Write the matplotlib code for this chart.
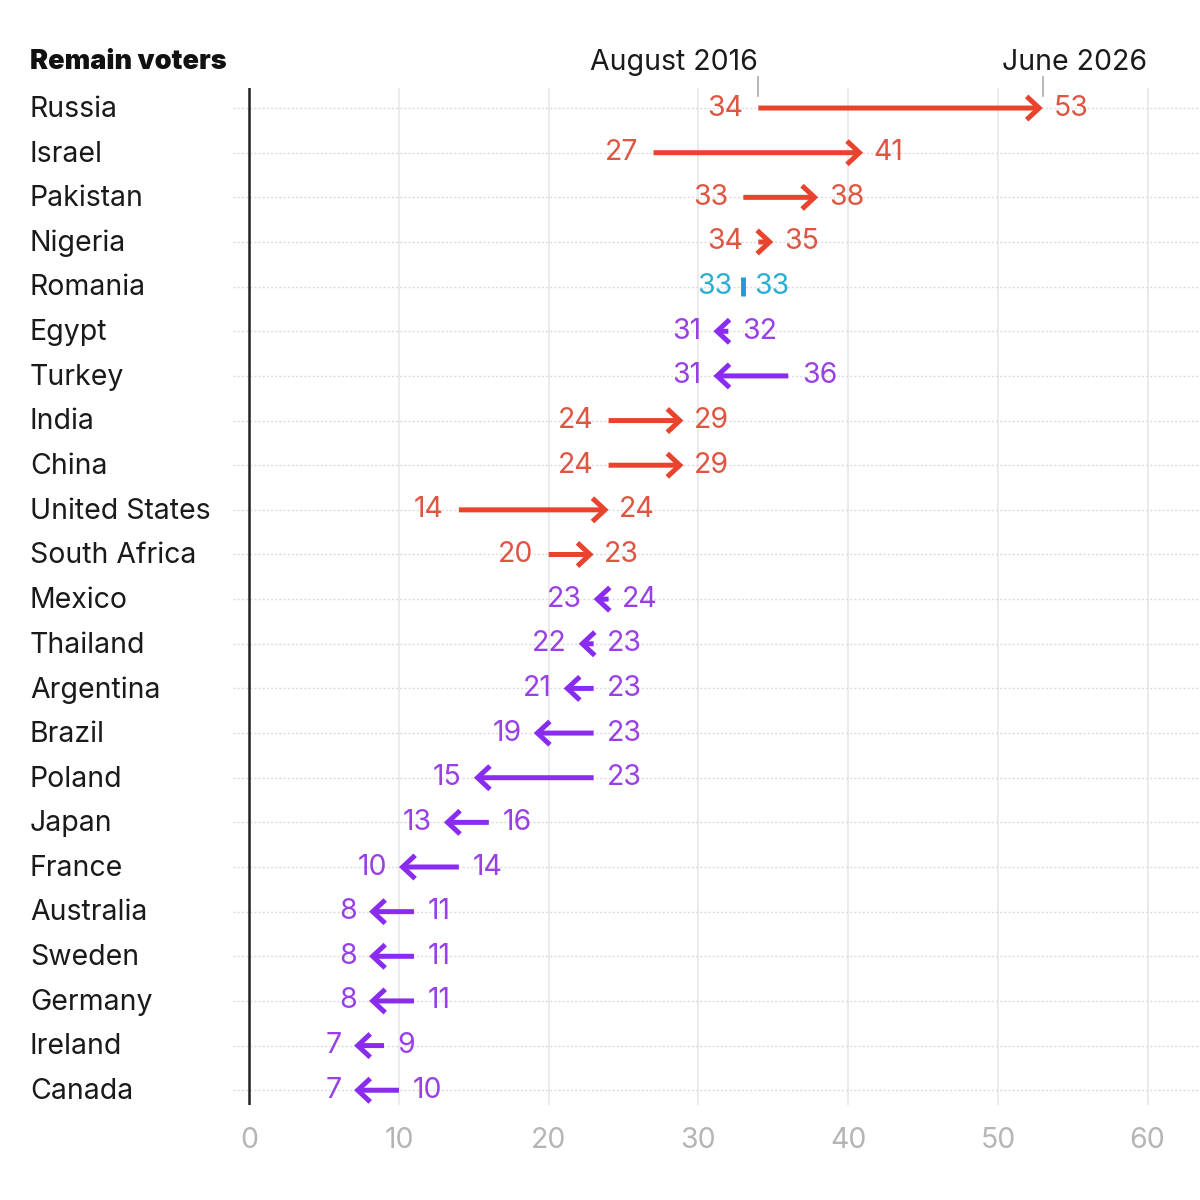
import matplotlib.pyplot as plt
from matplotlib.transforms import blended_transform_factory

# data
countries = ['Russia', 'Israel', 'Pakistan', 'Nigeria', 'Romania', 'Egypt', 'Turkey',
             'India', 'China', 'United States', 'South Africa', 'Mexico', 'Thailand',
             'Argentina', 'Brazil', 'Poland', 'Japan', 'France', 'Australia', 'Sweden',
             'Germany', 'Ireland', 'Canada']
aug2016 = [34, 27, 33, 34, 33, 32, 36, 24, 24, 14, 20, 24, 23, 23, 23, 23, 16, 14, 11, 11, 11, 9, 10]
jun2026 = [53, 41, 38, 35, 33, 31, 31, 29, 29, 24, 23, 23, 22, 21, 19, 15, 13, 10, 8, 8, 8, 7, 7]
xticks = [0, 10, 20, 30, 40, 50, 60]

RED = '#e8432d'
RED_TXT = '#de5642'
PURPLE = '#8a2cf0'
PURPLE_TXT = '#9840e6'
TEAL = '#1b9ed8'
TEAL_TXT = '#2aaed2'
FONT = 'Inter'
FS = 20.5

fig = plt.figure(figsize=(12, 12), dpi=100)
ax = fig.add_axes([0.194, 0.0792, 0.806, 0.8475])
n = len(countries)
ax.set_xlim(-1.1, 63.5)
ax.set_ylim(n - 1 + 0.33, -0.45)

for s in ax.spines.values():
    s.set_visible(False)
ax.set_yticks([])
ax.set_xticks(xticks)
ax.set_xticklabels([str(t) for t in xticks], fontsize=FS, color='#b5b5b5', family=FONT)
ax.tick_params(axis='x', length=0, pad=16)

# gridlines
for t in xticks[1:]:
    ax.axvline(t, color='#e8e8e8', lw=1.2, zorder=0)
for i in range(n):
    ax.axhline(i, color='#dcdcdc', lw=1, ls=(0, (1.5, 1.5)), zorder=0)
ax.axvline(0, color='#222222', lw=1.8, zorder=1)

tr = blended_transform_factory(fig.transFigure, ax.transData)
for i, (c, a, b) in enumerate(zip(countries, aug2016, jun2026)):
    ax.text(30 / 1200, i + 0.03, c, transform=tr, ha='left', va='center',
            fontsize=FS, family=FONT, color='#1a1a1a')
    if b > a:
        col, tcol = RED, RED_TXT
    elif b < a:
        col, tcol = PURPLE, PURPLE_TXT
    else:
        col, tcol = TEAL, TEAL_TXT
    if a == b:
        ax.plot([a, a], [i - 0.22, i + 0.22], color=col, lw=3.5, solid_capstyle='butt')
        ax.text(a - 0.7, i, str(a), ha='right', va='center', fontsize=FS, family=FONT, color=tcol)
        ax.text(b + 0.7, i, str(b), ha='left', va='center', fontsize=FS, family=FONT, color=tcol)
        continue
    ax.annotate('', xy=(b, i), xytext=(a, i),
                arrowprops=dict(arrowstyle='->,head_length=0.45,head_width=0.42', lw=3.6,
                                color=col, shrinkA=0, shrinkB=0, mutation_scale=20,
                                joinstyle='miter', capstyle='butt'))
    if b > a:
        ax.text(a - 1.0, i, str(a), ha='right', va='center', fontsize=FS, family=FONT, color=tcol)
        ax.text(b + 0.7, i, str(b), ha='left', va='center', fontsize=FS, family=FONT, color=tcol)
    else:
        ax.text(b - 0.8, i, str(b), ha='right', va='center', fontsize=FS, family=FONT, color=tcol)
        ax.text(a + 0.9, i, str(a), ha='left', va='center', fontsize=FS, family=FONT, color=tcol)

# header
hdr = blended_transform_factory(ax.transData, fig.transFigure)
hy = 1 - 62 / 1200
fig.text(30 / 1200, hy, 'Remain voters', ha='left', va='center',
         fontsize=FS - 1, family=FONT, fontweight='black', color='#111111')
ax.text(aug2016[0], hy, 'August 2016', ha='right', va='center', fontsize=FS,
        family=FONT, color='#1a1a1a', transform=hdr)
ax.text(55.1, hy, 'June 2026', ha='center', va='center', fontsize=FS,
        family=FONT, color='#1a1a1a', transform=hdr)
for v in (aug2016[0], jun2026[0]):
    ax.plot([v, v], [-0.7, -0.28], color='#aaaaaa', lw=1.2, clip_on=False)

fig.savefig('out.png', dpi=100, facecolor='white')
